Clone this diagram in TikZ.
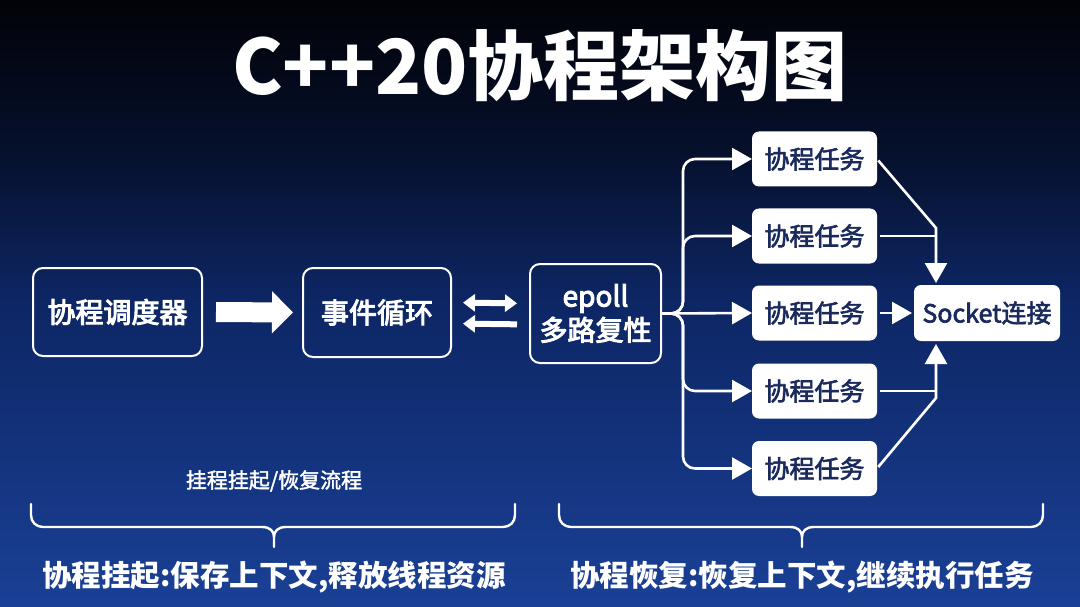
\documentclass[tikz,border=0pt]{standalone}
\usepackage{fontspec}
\setmainfont{Noto Sans CJK SC}
\newfontfamily\medfont[FakeBold=3.5]{Noto Sans CJK SC}
\newfontfamily\taskfont[FakeBold=2.5]{Noto Sans CJK SC}
\newfontfamily\notefont[FakeBold=1.8]{Noto Sans CJK SC}
\usetikzlibrary{arrows.meta,calc}
\definecolor{bgtop}{RGB}{2,3,8}
\definecolor{bgq}{RGB}{6,16,44}
\definecolor{bgmid}{RGB}{13,38,100}
\definecolor{bgbot}{RGB}{26,64,150}
\definecolor{navytext}{RGB}{27,42,92}
\pgfdeclareverticalshading{bgshade}{100bp}{color(0bp)=(bgbot); color(25bp)=(bgbot); color(50.3bp)=(bgmid); color(62.6bp)=(bgq); color(75bp)=(bgtop); color(100bp)=(bgtop)}
\tikzset{
  darkbox/.style={draw=white, line width=2pt, rounded corners=10pt, text=white, inner sep=0pt, outer sep=0pt,
    font=\medfont\fontsize{28}{36}\selectfont, align=center},
  taskbox/.style={fill=white, rounded corners=7pt, text=navytext, inner sep=0pt, outer sep=0pt,
    minimum height=55pt, font=\taskfont\fontsize{25}{30}\selectfont},
  conn/.style={draw=white, line width=2.6pt, -{Triangle[length=20pt,width=22pt]}},
  plainline/.style={draw=white, line width=2.6pt},
  bigarrow/.style={draw=white, line width=20pt, -{Triangle[length=21pt,width=41pt]}},
  swaparrow/.style={draw=white, line width=6pt},
  bracestyle/.style={draw=white, line width=2.4pt, line cap=round, line join=round},
  smalltext/.style={text=white, font=\notefont\fontsize{21}{24}\selectfont},
  bottomtext/.style={text=white, font=\bfseries\fontsize{29.5}{36}\selectfont}
}
\begin{document}
\begin{tikzpicture}[x=1pt,y=-1pt]
\useasboundingbox (0,0) rectangle (1080,607);
\fill[shading=bgshade] (0,0) rectangle (1080,607);

% title
\node[text=white, font=\bfseries\fontsize{76}{84}\selectfont] (title) at (540,66) {C++20协程架构图};

% main boxes
\node[darkbox, minimum width=169pt, minimum height=88pt] (sched) at (117.5,312) {协程调度器};
\node[darkbox, minimum width=148pt, minimum height=89pt] (loop) at (377,312.5) {事件循环};
\node[darkbox, minimum width=131pt, minimum height=99pt] (epoll) at (595.5,313.5) {epoll\\[-2pt]多路复性};

% tasks
\node[taskbox, minimum width=125pt] (task1) at (814.5,159) {协程任务};
\node[taskbox, minimum width=125pt] (task2) at (814.5,236) {协程任务};
\node[taskbox, minimum width=125pt] (task3) at (814.5,313) {协程任务};
\node[taskbox, minimum width=125pt] (task4) at (814.5,391) {协程任务};
\node[taskbox, minimum width=125pt] (task5) at (814.5,468.5) {协程任务};
\node[taskbox, minimum width=146pt, minimum height=56pt] (sock) at (987,313) {Socket连接};

% helper coordinates
\coordinate (tr) at (683,313);
\coordinate (jt) at (936,228);
\coordinate (jb) at (936,398);

% scheduler -> loop
\draw[bigarrow, shorten <=14pt, shorten >=10pt] (sched.east) -- (loop.west);

% loop <-> epoll
\draw[swaparrow, {Triangle[length=12pt,width=17pt]}-{Triangle[length=12pt,width=17pt]}, shorten <=12pt, shorten >=13pt]
  ([yshift=10pt]loop.east) -- ([yshift=10pt]epoll.west);
\draw[swaparrow, {Triangle[length=12pt,width=17pt]}-, shorten <=12pt, shorten >=13pt]
  ([yshift=-11pt]loop.east) -- ([yshift=-11pt]epoll.west);

% epoll -> tasks
\draw[conn, rounded corners=12pt] (epoll.east) -| (tr |- task1.west) -- (task1.west);
\draw[conn, rounded corners=12pt] (epoll.east) -| (tr |- task2.west) -- (task2.west);
\draw[conn] (epoll.east) -- (task3.west);
\draw[conn, rounded corners=12pt] (epoll.east) -| (tr |- task4.west) -- (task4.west);
\draw[conn, rounded corners=12pt] (epoll.east) -| (tr |- task5.west) -- (task5.west);

% tasks -> socket
\draw[conn, shorten <=2pt, shorten >=2pt] (task1.east) -- (jt) -- (jt |- sock.north);
\draw[plainline, shorten <=3pt] (task2.east) -- (jt |- task2.east);
\draw[conn, shorten <=3pt, shorten >=2pt] (task3.east) -- (sock.west);
\draw[plainline, shorten <=3pt] (task4.east) -- (jb |- task4.east);
\draw[conn, shorten <=2pt, shorten >=3pt] (task5.east) -- (jb) -- (jb |- sock.south);

% note
\node[smalltext] (note) at (274,481) {挂程挂起/恢复流程};

% braces
\draw[bracestyle] (31,504) -- (31,515) .. controls (31,522) and (36,527) .. (43,527) -- (262,527)
  .. controls (270,527) and (274,531) .. (274,537) -- (274,547) -- (274,537)
  .. controls (274,531) and (278,527) .. (286,527) -- (503,527)
  .. controls (510,527) and (515,522) .. (515,515) -- (515,504);
\draw[bracestyle] (559,504) -- (559,515) .. controls (559,522) and (564,527) .. (571,527) -- (790,527)
  .. controls (798,527) and (802,531) .. (802,537) -- (802,547) -- (802,537)
  .. controls (802,531) and (806,527) .. (814,527) -- (1031,527)
  .. controls (1038,527) and (1043,522) .. (1043,515) -- (1043,504);

% bottom texts
\node[bottomtext] (susp) at (274,577) {协程挂起:保存上下文,释放线程资源};
\node[bottomtext] (resm) at (802,577) {协程恢复:恢复上下文,继续执行任务};
\end{tikzpicture}
\end{document}
